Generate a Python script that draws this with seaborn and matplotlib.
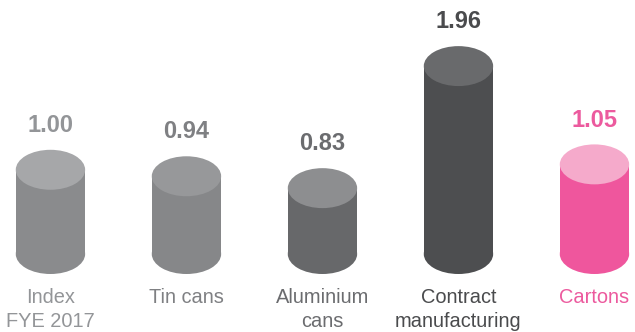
import matplotlib
matplotlib.use("Agg")
import matplotlib.pyplot as plt
from matplotlib.patches import Ellipse
import pandas as pd
import seaborn as sns

# Data
categories = ["Index\nFYE 2017", "Tin cans", "Aluminium\ncans", "Contract\nmanufacturing", "Cartons"]
values = [1.00, 0.94, 0.83, 1.96, 1.05]
value_labels = ["1.00", "0.94", "0.83", "1.96", "1.05"]

# Styling
body_colors = ["#8a8b8d", "#868789", "#67686a", "#4d4e50", "#ef569d"]
top_colors = ["#a6a7a9", "#97989a", "#8d8e90", "#696a6c", "#f5aacb"]
text_colors = ["#939598", "#7f8083", "#6b6c6f", "#4a4b4d", "#ec5a9e"]

BASE = 0.22          # value at which the cylinders start
BAR_WIDTH = 0.51
ELLIPSE_H = 0.37     # vertical size of the end caps in data units

sns.set_theme(style="white")
plt.rcParams["font.family"] = ["Liberation Sans", "DejaVu Sans"]

fig = plt.figure(figsize=(6.35, 3.32), dpi=100)
ax = fig.add_axes([0, 0, 1, 1])

df = pd.DataFrame({"category": categories, "value": values})
sns.barplot(data=df, x="category", y="value", hue="category",
            palette=body_colors, width=BAR_WIDTH, saturation=1,
            legend=False, ax=ax, linewidth=0)

bars = sorted(ax.patches, key=lambda p: p.get_x())
for i, bar in enumerate(bars):
    top = bar.get_height()
    cx = bar.get_x() + bar.get_width() / 2
    w = bar.get_width()
    # body starts at the base value
    bar.set_y(BASE)
    bar.set_height(top - BASE)
    bar.set_zorder(2)
    # bottom cap
    ax.add_patch(Ellipse((cx, BASE), w, ELLIPSE_H, facecolor=body_colors[i],
                         edgecolor="none", zorder=1))
    # top cap
    ax.add_patch(Ellipse((cx, top), w, ELLIPSE_H, facecolor=top_colors[i],
                         edgecolor="none", zorder=3))
    # value label
    ax.text(cx, top + 0.35, value_labels[i], ha="center", va="baseline",
            fontsize=17, fontweight="bold", color=text_colors[i])
    # category label
    ax.text(cx, -0.095, categories[i], ha="center", va="top",
            fontsize=14.4, color=text_colors[i], linespacing=1.3)

ax.set_xlim(-0.371, 4.298)
ax.set_ylim(-0.502, 2.572)
ax.axis("off")

fig.savefig("out.png", dpi=100)
